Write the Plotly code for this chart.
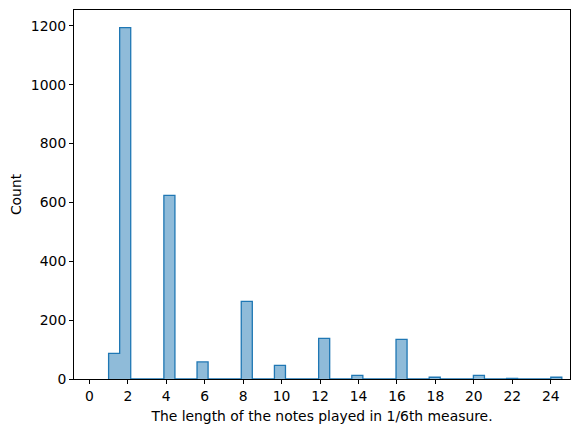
import numpy as np
import plotly.graph_objects as go

# note lengths (in 1/6th measure) and how many notes had that length
note_lengths = [1, 2, 4, 6, 8, 10, 12, 14, 16, 18, 20, 22, 24]
counts = [87, 1194, 624, 58, 264, 46, 138, 12, 135, 6, 12, 2, 6]

x_ticks = list(range(0, 25, 2))
y_ticks = [0, 200, 400, 600, 800, 1000, 1200]

BIN_START = 1.0
BIN_WIDTH = 0.575
N_BINS = 41

# rebuild the full histogram (empty bins included) so the step outline runs along zero
hist = np.zeros(N_BINS)
for v, c in zip(note_lengths, counts):
    hist[int((v - BIN_START) // BIN_WIDTH)] = c
edges = BIN_START + BIN_WIDTH * np.arange(N_BINS + 1)

step_x = np.concatenate([[edges[0]], edges, [edges[-1]]])
step_y = np.concatenate([[0], hist, [hist[-1]], [0]])

BLUE = "#1f77b4"

fig = go.Figure()
fig.add_trace(go.Scatter(
    x=step_x,
    y=step_y,
    mode="lines",
    line=dict(color=BLUE, width=1.3, shape="hv"),
    fill="tozeroy",
    fillcolor="rgba(31,119,180,0.5)",
    hoverinfo="skip",
    showlegend=False,
))

font = dict(family="DejaVu Sans", size=13.9, color="black")
axis_common = dict(
    showgrid=False,
    zeroline=False,
    showline=True,
    mirror=True,
    linecolor="black",
    linewidth=1,
    ticks="outside",
    ticklen=4,
    tickcolor="black",
    tickfont=font,
)

# the page body adds an 8px offset, so margins are shifted to compensate
fig.update_layout(
    width=580,
    height=432,
    margin=dict(l=66, r=18, t=2, b=61),
    plot_bgcolor="white",
    paper_bgcolor="white",
    font=font,
    xaxis=dict(
        range=[-0.8, 25.0],
        tickvals=x_ticks,
        title=dict(text="The length of the notes played in 1/6th measure.", font=font, standoff=8),
        **axis_common,
    ),
    yaxis=dict(
        range=[0, 1254],
        tickvals=y_ticks,
        title=dict(text="Count", font=font, standoff=9),
        **axis_common,
    ),
)

fig.write_html("out.html")
